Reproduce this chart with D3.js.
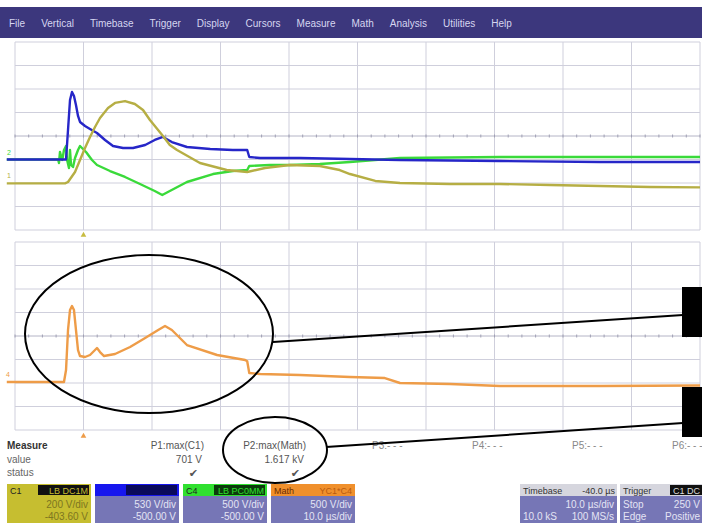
<!DOCTYPE html>
<html>
<head>
<meta charset="utf-8">
<script src="https://cdn.jsdelivr.net/npm/d3@7"></script>
<style>
body { margin: 0; background: #fff; }
svg { display: block; font-family: "Liberation Sans", Arial, sans-serif; }
</style>
</head>
<body>
<div id="scope"></div>
<script>
// ---- data (time in µs, voltage in V) ----
const menuItems = ["File", "Vertical", "Timebase", "Trigger", "Display", "Cursors", "Measure", "Math", "Analysis", "Utilities", "Help"];

const c1Trace = [[-11.2, 0], [-2.7, 0], [-2.26, 12], [-1.24, 97], [-0.51, 199], [0.22, 301], [0.95, 395], [1.68, 480],
    [2.41, 557], [3.58, 642], [4.6, 685], [6.06, 701], [7.5, 676], [8.69, 625], [9.7, 540], [11.6, 404], [12.6, 327],
    [13.65, 284], [17.0, 174], [20.9, 114], [23.9, 97], [26.5, 131], [30.1, 157], [34.5, 148], [37.4, 114], [38.9, 80],
    [42.6, 21], [46.2, 4], [53.5, -5], [60.8, -5], [68.1, -13], [75.4, -22], [82.7, -30], [90, -34]];

const c2Trace = [[-11.2, 0], [-2.55, 0], [-2.26, 628], [-1.97, 1266], [-1.68, 1436], [-1.39, 1351], [-1.1, 1160],
    [-0.8, 926], [-0.51, 798], [0.22, 713], [0.95, 649], [1.97, 564], [3.14, 415], [4.31, 287], [5.77, 245], [7.23, 245],
    [9.0, 309], [10.4, 415], [11.6, 479], [12.9, 372], [15.1, 266], [18.5, 223], [21.8, 202], [23.9, 202], [24.2, 53],
    [25.8, 32], [31.6, 32], [38.9, 10], [46.2, -11], [60.8, -32], [75.4, -53], [90, -53]];

const c4Trace = [[-11.2, 0], [-3.7, 0], [-3.58, -74], [-3.43, 160], [-3.28, 74], [-3.1, -10], [-2.85, 202], [-2.55, 287],
    [-2.41, 0], [-2.12, -181], [-1.97, 202], [-1.82, -117], [-1.53, -160], [-1.24, 32], [-0.8, 202], [-0.51, 287],
    [-0.22, 245], [0.37, 160], [1.24, -11], [1.97, -117], [3.87, -245], [6.06, -372], [8.25, -521], [10.4, -670],
    [11.5, -755], [12.6, -670], [15.1, -479], [18.9, -309], [21.8, -245], [23.9, -223], [24.2, -138], [27.2, -117],
    [30.1, -117], [34.5, -96], [38.9, -53], [46.2, 32], [60.8, 53], [75.4, 53], [90, 53]];

const mathTrace = [[-11.2, 0], [-2.85, 0], [-2.55, 255], [-2.26, 1107], [-1.97, 1532], [-1.68, 1617], [-1.39, 1532],
    [-1.1, 1107], [-0.8, 681], [-0.51, 553], [0.22, 532], [0.95, 575], [1.68, 681], [1.97, 724], [2.41, 638], [3.0, 553],
    [4.6, 596], [6.8, 745], [9.0, 936], [10.9, 1107], [11.9, 1192], [12.9, 1107], [15.1, 787], [19.5, 575], [23.6, 468],
    [23.9, 440], [24.2, 192], [25.8, 170], [31.6, 149], [38.9, 106], [44.0, 85], [46.2, -21], [53.5, -43], [60.8, -85],
    [75.4, -85], [90, -75]];

const voltsPerDiv = [200, 500, 500, 500];          // C1, C2, C4, Math
const offsetVolts = [-403.6, -500, -500, -979];

const measureRows = ["Measure", "value", "status"];
const paramNames = ["P1:max(C1)", "P2:max(Math)", "P3:- - -", "P4:- - -", "P5:- - -", "P6:- - -"];
const paramValues = ["701 V", "1.617 kV"];

const channelNames = ["C1", "", "C4", "Math"];
const channelTags = ["LB DC1M", "", "LB PC0MM", "YC1*C4"];
const channelLine1 = ["200 V/div", "530 V/div", "500 V/div", "500 V/div"];
const channelLine2 = ["-403.60 V", "-500.00 V", "-500.00 V", "10.0 µs/div"];
const timebaseText = ["Timebase", "-40.0 µs", "10.0 µs/div", "10.0 kS", "100 MS/s"];
const triggerText = ["Trigger", "C1 DC", "Stop", "250 V", "Edge", "Positive"];

// ---- drawing ----
const W = 702, H = 523;
const svg = d3.select("#scope").append("svg").attr("width", W).attr("height", H);

// menu bar
svg.append("rect").attr("x", 0).attr("y", 7).attr("width", W).attr("height", 31).attr("fill", "#3c377d");
let mx = 9;
menuItems.forEach(m => {
    const t = svg.append("text").attr("x", mx).attr("y", 27)
        .attr("fill", "#d6d6f0").attr("font-size", 10).text(m);
    mx += t.node().getComputedTextLength() + 16;
});

// time axis shared by both grids
const x = d3.scaleLinear().domain([-10, 90]).range([15, 700]);

const panels = [{top: 42, bottom: 230}, {top: 242, bottom: 430}];

panels.forEach((p, i) => {
    const g = svg.append("g");
    const yDiv = d3.scaleLinear().domain([-4, 4]).range([p.bottom, p.top]);

    g.selectAll("line.vgrid").data(d3.range(-10, 91, 10)).join("line")
        .attr("class", "vgrid")
        .attr("x1", d => x(d)).attr("x2", d => x(d))
        .attr("y1", p.top).attr("y2", p.bottom)
        .attr("stroke", "#cfcfdc").attr("stroke-width", 1);

    g.selectAll("line.hgrid").data(d3.range(-4, 5)).join("line")
        .attr("class", "hgrid")
        .attr("x1", x(-10)).attr("x2", x(90))
        .attr("y1", d => yDiv(d)).attr("y2", d => yDiv(d))
        .attr("stroke", d => d === 0 ? "#b4b4c6" : "#cfcfdc").attr("stroke-width", 1);

    // minor ticks on the centre line
    g.selectAll("line.mtick").data(d3.range(-10, 90.01, 2)).join("line")
        .attr("class", "mtick")
        .attr("x1", d => x(d)).attr("x2", d => x(d))
        .attr("y1", yDiv(0) - 1.5).attr("y2", yDiv(0) + 1.5)
        .attr("stroke", "#a0a0b4");

    svg.append("clipPath").attr("id", "clip" + i)
        .append("rect").attr("x", 6).attr("y", p.top).attr("width", 695).attr("height", p.bottom - p.top);
});

const yUpper = k => d3.scaleLinear()
    .domain([-offsetVolts[k] - 4 * voltsPerDiv[k], -offsetVolts[k] + 4 * voltsPerDiv[k]])
    .range([230, 42]);
const yLower = k => d3.scaleLinear()
    .domain([-offsetVolts[k] - 4 * voltsPerDiv[k], -offsetVolts[k] + 4 * voltsPerDiv[k]])
    .range([430, 242]);

const traces = [
    {data: c4Trace, y: yUpper(2), color: "#3ada3a", clip: 0},
    {data: c2Trace, y: yUpper(1), color: "#2626c8", clip: 0},
    {data: c1Trace, y: yUpper(0), color: "#b6ae44", clip: 0},
    {data: mathTrace, y: yLower(3), color: "#ee9c48", clip: 1}
];

traces.forEach(tr => {
    const line = d3.line().x(d => x(d[0])).y(d => tr.y(d[1]));
    svg.append("path").datum(tr.data)
        .attr("clip-path", `url(#clip${tr.clip})`)
        .attr("fill", "none").attr("stroke", tr.color)
        .attr("stroke-width", 2.4).attr("stroke-linejoin", "round")
        .attr("d", line);
});

// channel markers on the left edge and trigger markers
svg.append("text").attr("x", 7).attr("y", yUpper(2)(0) - 5).attr("font-size", 7).attr("fill", "#3ada3a").text("2");
svg.append("text").attr("x", 7).attr("y", yUpper(0)(0) - 5).attr("font-size", 7).attr("fill", "#b6ae44").text("1");
svg.append("text").attr("x", 6).attr("y", yLower(3)(0) - 5).attr("font-size", 7).attr("fill", "#ee9c48").text("4");

const tri = d3.symbol().type(d3.symbolTriangle).size(14);
svg.append("path").attr("d", tri).attr("transform", `translate(${x(0)},235)`).attr("fill", "#c8bc40");
svg.append("path").attr("d", tri).attr("transform", `translate(${x(0)},436)`).attr("fill", "#ee9c48");

// measure table
const mg = svg.append("g").attr("font-size", 10).attr("fill", "#555");
measureRows.forEach((r, i) => {
    mg.append("text").attr("x", 7).attr("y", 449 + i * 13.5)
        .attr("fill", i === 0 ? "#333" : "#666").attr("font-weight", i === 0 ? "bold" : "normal").text(r);
});
const paramRight = [204, 306];
paramNames.forEach((n, i) => {
    if (i < 2) {
        mg.append("text").attr("x", paramRight[i]).attr("y", 449).attr("text-anchor", "end").text(n);
    } else {
        mg.append("text").attr("x", 372 + (i - 2) * 100).attr("y", 449).attr("fill", "#888").text(n);
    }
});
paramValues.forEach((v, i) => {
    mg.append("text").attr("x", paramRight[i] - 2).attr("y", 462.5).attr("text-anchor", "end").text(v);
    mg.append("text").attr("x", paramRight[i] - 6).attr("y", 477).attr("text-anchor", "end")
        .attr("font-family", "DejaVu Sans").attr("font-size", 11).attr("fill", "#555").text("✔");
});

// channel boxes
const headFill = ["#c6be30", "#1616ee", "#30e030", "#f0902c"];
const tagFill = ["#111", "#0a0a5a", "#0c3a0c", "#f0902c"];
const tagText = ["#c6be30", "#1616ee", "#30e030", "#b85a10"];
const bodyFill = ["#c6be30", "#7676b6", "#7676b6", "#7676b6"];
const bodyText = ["#7d7620", "#e4e4f4", "#e4e4f4", "#e4e4f4"];
const bx = d3.scaleLinear().domain([0, 1]).range([7, 95]);

channelNames.forEach((n, i) => {
    const x0 = bx(i), w = 84;
    const g = svg.append("g").attr("font-size", 9);
    g.append("rect").attr("x", x0).attr("y", 484).attr("width", w).attr("height", 39).attr("fill", bodyFill[i]);
    g.append("rect").attr("x", x0).attr("y", 484).attr("width", w).attr("height", 12).attr("fill", headFill[i]);
    g.append("rect").attr("x", x0 + 31).attr("y", 485).attr("width", w - 33).attr("height", 10).attr("fill", tagFill[i]);
    g.append("text").attr("x", x0 + 3).attr("y", 494).attr("fill", i === 3 ? "#6a2a00" : "#222").text(n);
    g.append("text").attr("x", x0 + w - 3).attr("y", 494).attr("text-anchor", "end").attr("fill", tagText[i]).text(channelTags[i]);
    g.append("text").attr("x", x0 + w - 3).attr("y", 507.5).attr("text-anchor", "end").attr("font-size", 10).attr("fill", bodyText[i]).text(channelLine1[i]);
    g.append("text").attr("x", x0 + w - 3).attr("y", 520).attr("text-anchor", "end").attr("font-size", 10).attr("fill", bodyText[i]).text(channelLine2[i]);
});

// timebase and trigger boxes
const tb = svg.append("g").attr("font-size", 9);
tb.append("rect").attr("x", 520).attr("y", 484).attr("width", 97).attr("height", 39).attr("fill", "#7676b6");
tb.append("rect").attr("x", 520).attr("y", 484).attr("width", 97).attr("height", 12).attr("fill", "#d6d6de");
tb.append("text").attr("x", 523).attr("y", 494).attr("fill", "#333").text(timebaseText[0]);
tb.append("text").attr("x", 615).attr("y", 494).attr("text-anchor", "end").attr("fill", "#333").text(timebaseText[1]);
tb.append("text").attr("x", 614).attr("y", 507.5).attr("text-anchor", "end").attr("font-size", 10).attr("fill", "#e4e4f4").text(timebaseText[2]);
tb.append("text").attr("x", 523).attr("y", 520).attr("font-size", 10).attr("fill", "#e4e4f4").text(timebaseText[3]);
tb.append("text").attr("x", 614).attr("y", 520).attr("text-anchor", "end").attr("font-size", 10).attr("fill", "#e4e4f4").text(timebaseText[4]);

tb.append("rect").attr("x", 620).attr("y", 484).attr("width", 84).attr("height", 39).attr("fill", "#7676b6");
tb.append("rect").attr("x", 620).attr("y", 484).attr("width", 84).attr("height", 12).attr("fill", "#d6d6de");
tb.append("rect").attr("x", 670).attr("y", 485).attr("width", 34).attr("height", 10).attr("fill", "#111");
tb.append("text").attr("x", 623).attr("y", 494).attr("fill", "#333").text(triggerText[0]);
tb.append("text").attr("x", 673).attr("y", 494).attr("fill", "#ddd").text(triggerText[1]);
tb.append("text").attr("x", 623).attr("y", 507.5).attr("font-size", 10).attr("fill", "#e4e4f4").text(triggerText[2]);
tb.append("text").attr("x", 700).attr("y", 507.5).attr("text-anchor", "end").attr("font-size", 10).attr("fill", "#e4e4f4").text(triggerText[3]);
tb.append("text").attr("x", 623).attr("y", 520).attr("font-size", 10).attr("fill", "#e4e4f4").text(triggerText[4]);
tb.append("text").attr("x", 700).attr("y", 520).attr("text-anchor", "end").attr("font-size", 10).attr("fill", "#e4e4f4").text(triggerText[5]);

// annotations: ellipses, leader lines, black boxes
const ann = svg.append("g").attr("fill", "none").attr("stroke", "#000").attr("stroke-width", 2);
ann.append("ellipse").attr("cx", 149).attr("cy", 334).attr("rx", 124).attr("ry", 79);
ann.append("ellipse").attr("cx", 275).attr("cy", 450).attr("rx", 52).attr("ry", 33);
ann.append("line").attr("x1", 273).attr("y1", 342).attr("x2", 683).attr("y2", 315);
ann.append("line").attr("x1", 326).attr("y1", 447).attr("x2", 683).attr("y2", 423);
svg.append("rect").attr("x", 682).attr("y", 287).attr("width", 20).attr("height", 50).attr("fill", "#000");
svg.append("rect").attr("x", 682).attr("y", 387).attr("width", 20).attr("height", 50).attr("fill", "#000");
</script>
</body>
</html>
